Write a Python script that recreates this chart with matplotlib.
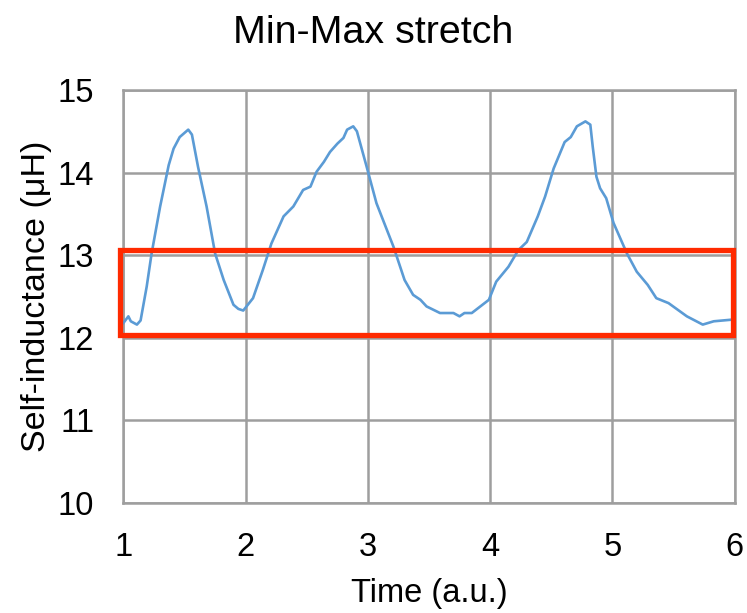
import matplotlib
matplotlib.use("Agg")
from matplotlib import pyplot as plt
from matplotlib.patches import Rectangle

plt.rcParams["font.family"] = ["Liberation Sans", "DejaVu Sans"]

# 自感随时间变化（拉伸过程）
time_au = [1.00, 1.04, 1.06, 1.11, 1.14, 1.19, 1.23, 1.30, 1.37, 1.41, 1.46, 1.53,
           1.56, 1.61, 1.68, 1.75, 1.82, 1.90, 1.94, 1.98, 2.06, 2.14, 2.21, 2.31,
           2.39, 2.47, 2.53, 2.58, 2.64, 2.69, 2.75, 2.80, 2.83, 2.88, 2.91, 2.99,
           3.07, 3.21, 3.30, 3.37, 3.43, 3.48, 3.59, 3.70, 3.75, 3.79, 3.85, 3.92,
           3.99, 4.05, 4.15, 4.23, 4.30, 4.39, 4.45, 4.52, 4.61, 4.66, 4.71, 4.78,
           4.82, 4.84, 4.87, 4.90, 4.95, 5.01, 5.12, 5.20, 5.29, 5.36, 5.46, 5.61,
           5.74, 5.83, 5.98]
inductance_uh = [12.18, 12.26, 12.20, 12.16, 12.21, 12.62, 13.02, 13.59, 14.09, 14.29, 14.43, 14.52,
                 14.46, 14.07, 13.59, 13.02, 12.70, 12.40, 12.35, 12.33, 12.48, 12.82, 13.14, 13.47,
                 13.59, 13.79, 13.83, 14.01, 14.13, 14.25, 14.35, 14.42, 14.52, 14.56, 14.50, 14.07,
                 13.63, 13.10, 12.70, 12.52, 12.46, 12.38, 12.30, 12.30, 12.26, 12.30, 12.30, 12.38,
                 12.46, 12.68, 12.86, 13.06, 13.16, 13.47, 13.71, 14.05, 14.37, 14.43, 14.56, 14.62,
                 14.58, 14.31, 13.95, 13.81, 13.69, 13.39, 13.02, 12.80, 12.64, 12.48, 12.42, 12.26,
                 12.16, 12.20, 12.22]

# 标注区域（最小值到最大值范围）
band_x = [0.97, 5.99]
band_y = [12.03, 13.06]

x_ticks = [1, 2, 3, 4, 5, 6]
y_ticks = [10, 11, 12, 13, 14, 15]

fig = plt.figure(figsize=(7.47, 6.13), dpi=100)
ax = fig.add_axes([0.1653, 0.1794, 0.818, 0.6738])

ax.plot(time_au, inductance_uh, color="#5B9BD5", linewidth=1.9, zorder=3)

rect = Rectangle((band_x[0], band_y[0]), band_x[1] - band_x[0], band_y[1] - band_y[0],
                 fill=False, edgecolor="#FF2A00", linewidth=3.8, clip_on=False, zorder=4)
ax.add_patch(rect)

ax.set_xlim(1, 6)
ax.set_ylim(10, 15)
ax.set_xticks(x_ticks)
ax.set_yticks(y_ticks)
ax.grid(True, color="#9E9E9E", linewidth=1.8)
ax.set_axisbelow(True)
for s in ax.spines.values():
    s.set_color("#9E9E9E")
    s.set_linewidth(1.8)
ax.tick_params(length=0, labelsize=23.5)
ax.tick_params(axis="x", pad=20.5)
ax.tick_params(axis="y", pad=21)

ax.set_xlabel("Time (a.u.)", fontsize=23.5, labelpad=11.5)
ax.set_ylabel("Self-inductance (\u03bcH)", fontsize=24.5, labelpad=4)
fig.text(0.5, 0.93, "Min-Max stretch", ha="center", va="baseline", fontsize=28.4)

plt.savefig("out.png", dpi=100)
plt.close()
